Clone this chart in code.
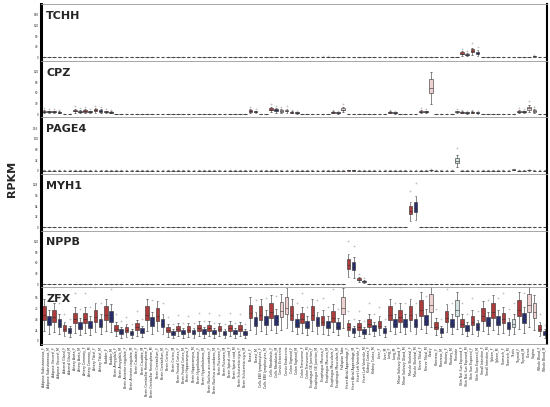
import numpy as np, pandas as pd, seaborn as sns, matplotlib.pyplot as plt

sns.set_style("white")
plt.rcParams['font.family'] = ['DejaVu Sans']

tissues = ["Adipose Subcutaneous","Adipose Visceral","Adrenal Gland","Artery Aorta","Artery Coronary",
 "Artery Tibial","Bladder","Brain Amygdala","Brain Anterior cingulate","Brain Caudate","Brain Cerebellar Hemisphere",
 "Brain Cerebellum","Brain Cortex","Brain Frontal Cortex","Brain Hippocampus","Brain Hypothalamus",
 "Brain Nucleus accumbens","Brain Putamen","Brain Spinal cord","Brain Substantia nigra","Breast",
 "Cells EBV lymphocytes","Cells Fibroblasts","Cervix Ectocervix*","Cervix Endocervix*","Colon Sigmoid",
 "Colon Transverse","Esophagus GE Junction","Esophagus Mucosa","Esophagus Muscularis","Fallopian Tube*",
 "Heart Atrial Appendage","Heart Left Ventricle","Kidney Cortex","Liver","Lung","Minor Salivary Gland",
 "Muscle Skeletal","Nerve Tibial","Ovary*","Pancreas","Pituitary","Prostate#","Skin Not Sun Exposed",
 "Skin Sun Exposed","Small Intestine","Spleen","Stomach","Testis#","Thyroid","Uterus*","Vagina*","Whole Blood"]

# per-box medians (F, M); single-sex tissues use one value
zfx = {"Adipose Subcutaneous":(55,40),"Adipose Visceral":(50,35),"Adrenal Gland":(25,20),"Artery Aorta":(45,30),
 "Artery Coronary":(45,32),"Artery Tibial":(50,35),"Bladder":(55,48),"Brain Amygdala":(25,18),
 "Brain Anterior cingulate":(22,16),"Brain Caudate":(28,20),"Brain Cerebellar Hemisphere":(55,38),
 "Brain Cerebellum":(52,35),"Brain Cortex":(22,16),"Brain Frontal Cortex":(24,17),"Brain Hippocampus":(23,17),
 "Brain Hypothalamus":(26,18),"Brain Nucleus accumbens":(26,17),"Brain Putamen":(24,16),"Brain Spinal cord":(26,17),
 "Brain Substantia nigra":(25,16),"Breast":(58,38),"Cells EBV lymphocytes":(55,40),"Cells Fibroblasts":(60,42),
 "Cervix Ectocervix*":(62,),"Cervix Endocervix*":(70,),"Colon Sigmoid":(55,35),"Colon Transverse":(45,32),
 "Esophagus GE Junction":(55,38),"Esophagus Mucosa":(40,32),"Esophagus Muscularis":(48,30),"Fallopian Tube*":(70,),
 "Heart Atrial Appendage":(28,20),"Heart Left Ventricle":(28,18),"Kidney Cortex":(35,25),"Liver":(32,20),
 "Lung":(55,35),"Minor Salivary Gland":(50,35),"Muscle Skeletal":(55,35),"Nerve Tibial":(65,42),"Ovary*":(75,),
 "Pancreas":(30,20),"Pituitary":(48,35),"Prostate#":(65,),"Skin Not Sun Exposed":(35,25),"Skin Sun Exposed":(40,28),
 "Small Intestine":(52,38),"Spleen":(60,40),"Stomach":(45,30),"Testis#":(35,),"Thyroid":(65,45),
 "Uterus*":(75,),"Vagina*":(60,),"Whole Blood":(25,15)}
tchh = {"Skin Not Sun Exposed":(14,10),"Skin Sun Exposed":(22,16),"Vagina*":(4,),"Esophagus Mucosa":(2,2)}
cpz = {"Ovary*":(70,),"Uterus*":(15,),"Cervix Ectocervix*":(8,),"Cervix Endocervix*":(9,),"Fallopian Tube*":(12,),
 "Artery Tibial":(10,8),"Artery Aorta":(9,7),"Artery Coronary":(8,6),"Adipose Subcutaneous":(7,6),
 "Adipose Visceral":(6,5),"Breast":(8,6),"Cells Fibroblasts":(12,10),"Nerve Tibial":(7,6),"Thyroid":(7,6),
 "Skin Not Sun Exposed":(5,4),"Skin Sun Exposed":(5,4),"Lung":(5,4),"Prostate#":(6,),"Vagina*":(8,),
 "Esophagus Muscularis":(5,4),"Colon Sigmoid":(5,4),"Bladder":(6,5)}
page4 = {"Prostate#":(30,),"Testis#":(3,),"Ovary*":(2,),"Uterus*":(2,),"Heart Atrial Appendage":(1,1)}
myh1 = {"Muscle Skeletal":(45,55)}
nppb = {"Heart Atrial Appendage":(50,45),"Heart Left Ventricle":(12,7)}
genes = [("TCHH",tchh,200),("CPZ",cpz,150),("PAGE4",page4,170),("MYH1",myh1,160),("NPPB",nppb,150),("ZFX",zfx,120)]

order = []
for t in tissues:
    if t.endswith("*") or t.endswith("#"):
        order.append((t.rstrip("*#"), t, "Fo" if t.endswith("*") else "Mo"))
    else:
        order.append((t+"_F", t, "F")); order.append((t+"_M", t, "M"))
labels = [o[0] for o in order]

pal = {"F":"#c0282a","M":"#1b237a","Fo":"#f3cccc","Mo":"#cfe6e4"}

fig, axes = plt.subplots(6,1,figsize=(5.5,4.07),dpi=100,sharex=True)
fig.subplots_adjust(left=0.075,right=0.995,top=0.99,bottom=0.155,hspace=0)
for ax,(g,d,ymax) in zip(axes,genes):
    recs=[]
    for lab,t,grp in order:
        v = d.get(t)
        if v is None: m = 0.6
        else: m = v[0] if grp in ("F","Fo") else v[-1]
        for f in (0.4,0.75,0.9,1.0,1.12,1.3,1.7,2.4):
            recs.append((lab,grp,m*f))
    df = pd.DataFrame(recs,columns=["tissue","grp","val"])
    sns.boxplot(data=df,x="tissue",y="val",hue="grp",order=labels,palette=pal,dodge=False,
                width=0.7,linewidth=0.4,fliersize=0.8,ax=ax,legend=False,
                flierprops=dict(marker="o",markeredgecolor="#999999",markeredgewidth=0.3))
    ax.set_ylim(-ymax*0.06,ymax)
    ax.set_ylabel("")
    ax.set_xlabel("")
    ax.tick_params(axis="y",labelsize=2,length=1,width=0.3,pad=1)
    ax.set_yticks(np.linspace(0,ymax*0.8,5))
    ax.yaxis.set_major_formatter(plt.FuncFormatter(lambda v,p: f"{v:.0f}"))
    ax.text(0.01,0.88,g,transform=ax.transAxes,fontsize=8,fontweight="bold",va="top")
    for s in ("top","bottom"):
        ax.spines[s].set_color("#999999"); ax.spines[s].set_linewidth(0.6)
    ax.spines["left"].set_linewidth(2.2); ax.spines["left"].set_color("black")
    ax.spines["right"].set_linewidth(1.5); ax.spines["right"].set_color("black")
axes[-1].tick_params(axis="x",labelsize=2.3,rotation=90,length=1,width=0.3,pad=1)
fig.text(0.012,0.56,"RPKM",rotation=90,fontsize=8,fontweight="bold",va="center")
fig.savefig("out.png",dpi=100)
